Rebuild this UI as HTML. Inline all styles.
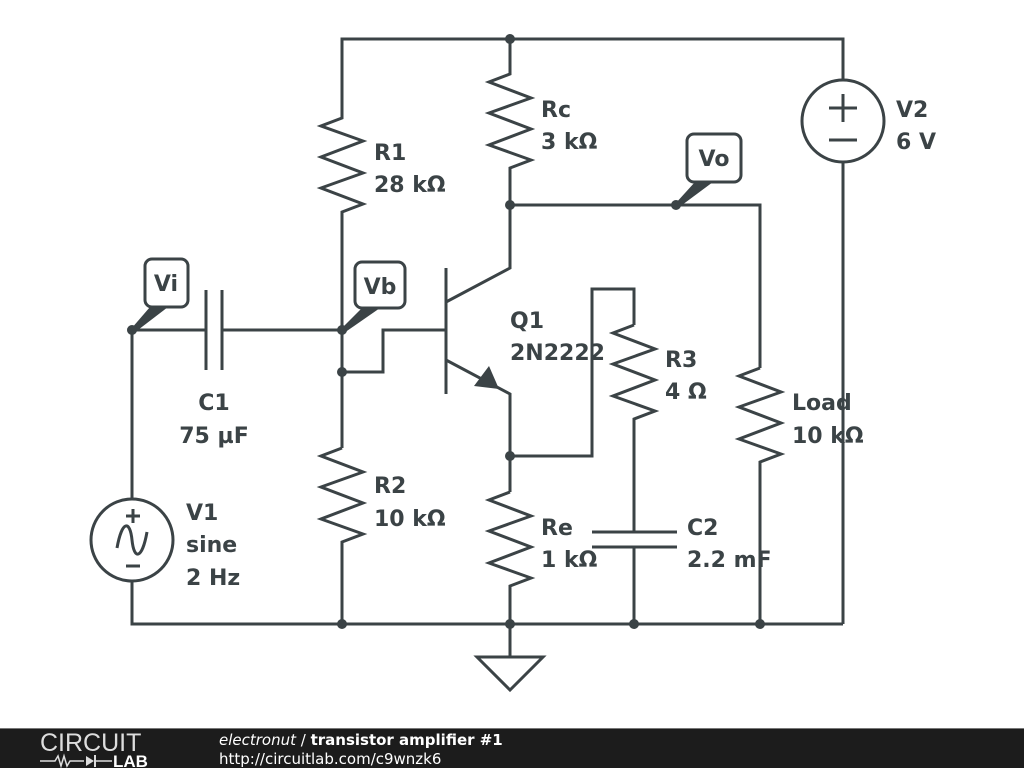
<!DOCTYPE html>
<html><head><meta charset="utf-8"><style>
body{margin:0;width:1024px;height:768px;background:#fff;overflow:hidden}
svg{display:block}
</style></head><body>
<svg width="1024" height="768" xmlns="http://www.w3.org/2000/svg">
<g font-family="DejaVu Sans, sans-serif" font-weight="bold" font-size="22" fill="#3b4346">
<text x="374" y="160">R1</text><text x="374" y="192">28 kΩ</text>
<text x="541" y="117">Rc</text><text x="541" y="149">3 kΩ</text>
<text x="896" y="117">V2</text><text x="896" y="149">6 V</text>
<text x="510" y="328">Q1</text><text x="510" y="360">2N2222</text>
<text x="665" y="367">R3</text><text x="665" y="399">4 Ω</text>
<text x="792" y="410">Load</text><text x="792" y="443">10 kΩ</text>
<text x="214" y="410" text-anchor="middle">C1</text><text x="214" y="443" text-anchor="middle">75 µF</text>
<text x="186" y="520">V1</text><text x="186" y="552">sine</text><text x="186" y="585">2 Hz</text>
<text x="374" y="493">R2</text><text x="374" y="526">10 kΩ</text>
<text x="541" y="535">Re</text><text x="541" y="567">1 kΩ</text>
<text x="687" y="535">C2</text><text x="687" y="567">2.2 mF</text>
</g>
<g stroke="#3b4346" stroke-width="3" fill="none" stroke-linejoin="miter">
<polyline points="342,115 342,39 843,39 843,81"/>
<line x1="843" y1="162" x2="843" y2="624"/>
<polyline points="342,115 342,118 321,126 363,141 321,157 363,173 321,188 363,204 342,212 342,372 342,448"/>
<polyline points="510,39 510,74 489,82 531,98 489,113 531,129 489,145 531,160 510,168 510,268 446,302"/>
<polyline points="510,205 760,205 760,368"/>
<polyline points="760,368 739,376 781,392 739,407 781,423 739,439 781,454 760,462 760,624"/>
<line x1="446" y1="268" x2="446" y2="394"/>
<polyline points="446,360 510,394 510,492"/>
<polyline points="342,372 383,372 383,330 446,330"/>
<polyline points="510,456 592,456 592,289 634,289 634,325"/>
<polyline points="634,325 613,333 655,349 613,364 655,380 613,396 655,411 634,419 634,532"/>
<line x1="634" y1="547" x2="634" y2="624"/>
<line x1="592" y1="532" x2="677" y2="532"/>
<line x1="592" y1="547" x2="677" y2="547"/>
<polyline points="510,492 489,500 531,516 489,531 531,547 489,563 531,578 510,586 510,657"/>
<polyline points="342,448 321,456 363,472 321,487 363,503 321,519 363,534 342,542 342,624"/>
<polyline points="132,499 132,330 206,330"/>
<line x1="206" y1="290" x2="206" y2="370"/>
<line x1="222" y1="290" x2="222" y2="370"/>
<line x1="222" y1="330" x2="342" y2="330"/>
<polyline points="132,581 132,624 843,624"/>
<circle cx="132" cy="540" r="41"/>
<path d="M117,548 C122,520 130,520 132,540 C134,560 142,560 147,532"/>
<line x1="126" y1="516" x2="140" y2="516"/><line x1="133" y1="509" x2="133" y2="523"/>
<line x1="126" y1="566" x2="140" y2="566"/>
<circle cx="843" cy="121" r="41"/>
<line x1="829" y1="108" x2="857" y2="108"/><line x1="843" y1="94" x2="843" y2="122"/>
<line x1="829" y1="140" x2="857" y2="140"/>
<polygon points="477,657 543,657 510,690"/>
<rect x="145" y="259" width="43" height="48" rx="7" fill="#fff"/>
<rect x="355" y="262" width="50" height="46" rx="7" fill="#fff"/>
<rect x="687" y="134" width="54" height="48" rx="7" fill="#fff"/>
</g>
<g fill="#3b4346">
<polygon points="131,329 150,307 168,307 134,333"/>
<polygon points="341,329 362,308 380,308 344,333"/>
<polygon points="675,204 695,182 713,182 678,208"/>
<polygon points="499,389 474,386 489,366"/>
<circle cx="132" cy="330" r="5"/><circle cx="342" cy="330" r="5"/><circle cx="342" cy="372" r="5"/>
<circle cx="510" cy="39" r="5"/><circle cx="510" cy="205" r="5"/><circle cx="676" cy="205" r="5"/>
<circle cx="510" cy="456" r="5"/>
<circle cx="342" cy="624" r="5"/><circle cx="510" cy="624" r="5"/><circle cx="634" cy="624" r="5"/><circle cx="760" cy="624" r="5"/>
</g>
<g font-family="DejaVu Sans, sans-serif" font-weight="bold" font-size="22" fill="#3b4346" text-anchor="middle">
<text x="166" y="291">Vi</text><text x="380" y="294">Vb</text><text x="714" y="166">Vo</text>
</g>
<rect x="0" y="728" width="1024" height="40" fill="#1c1c1c"/>
<line x1="0" y1="728.5" x2="1024" y2="728.5" stroke="#777" stroke-width="1"/>
<g font-family="DejaVu Sans, sans-serif" fill="#fff">
<text x="40" y="751" font-size="25" font-weight="200" fill="#ddd" font-family="Liberation Sans, sans-serif">CIRCUIT</text>
<polyline points="40,761 55,761 58,756 61,766 64,756 67,766 70,761 84,761" stroke="#ddd" stroke-width="1.5" fill="none"/>
<polygon points="86,756 86,766 94,761" fill="#ddd"/>
<line x1="95" y1="755" x2="95" y2="767" stroke="#ddd" stroke-width="2"/>
<line x1="95" y1="761" x2="112" y2="761" stroke="#ddd" stroke-width="1.5"/>
<text x="113" y="767" font-size="17" font-weight="bold" font-family="Liberation Sans, sans-serif">LAB</text>
<text x="219" y="745" font-size="15"><tspan font-style="italic">electronut</tspan> / <tspan font-weight="bold">transistor amplifier #1</tspan></text>
<text x="219" y="764" font-size="15">http://circuitlab.com/c9wnzk6</text>
</g>
</svg>
</body></html>
